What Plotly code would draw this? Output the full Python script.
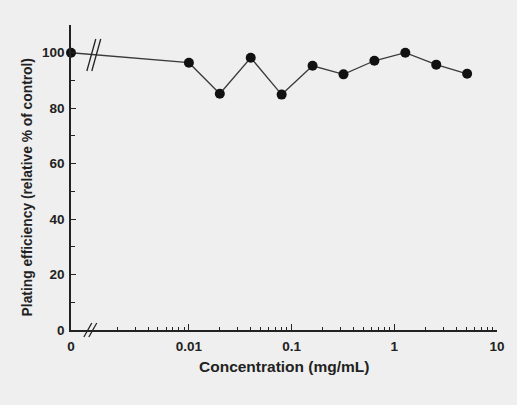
import plotly.graph_objects as go

# Data
concentration = [0, 0.01, 0.02, 0.04, 0.08, 0.16, 0.32, 0.64, 1.28, 2.56, 5.12]
plating_eff = [100, 96.4, 85.2, 98.2, 84.9, 95.3, 92.2, 97.1, 100, 95.7, 92.4]
x_tick_vals = [0.01, 0.1, 1, 10]
x_tick_text = ["0.01", "0.1", "1", "10"]
y_tick_vals = [0, 20, 40, 60, 80, 100]

# broken axis: the control (0) is drawn at a placeholder position on the log axis
ZERO_POS = 10 ** -3.148
x_plot = [ZERO_POS if c == 0 else c for c in concentration]

minor_x = [m * 10 ** e for e in (-3, -2, -1, 0) for m in range(2, 10)]
minor_x = [v for v in minor_x if v > 0.0015]

W, H = 517, 405
L, R, T, B = 71, 16, 25, 75
pw, ph = W - L - R, H - T - B

def px(x):
    return (x - L) / pw

def py(y):
    return (H - B - y) / ph

bg = "#efefef"
ink = "#222222"
font_fam = "Liberation Sans, Arial, sans-serif"

fig = go.Figure()
fig.add_trace(go.Scatter(
    x=x_plot, y=plating_eff, mode="lines+markers",
    line=dict(color="#3a3a3a", width=1.3),
    marker=dict(color="#111111", size=10),
    cliponaxis=False, showlegend=False, hoverinfo="skip",
))

fig.update_layout(
    width=W, height=H,
    margin=dict(l=L, r=R, t=T, b=B),
    paper_bgcolor=bg, plot_bgcolor=bg,
    font=dict(family=font_fam, color=ink),
    xaxis=dict(
        type="log", range=[-3.148, 1],
        tickmode="array",
        tickvals=[ZERO_POS] + x_tick_vals,
        ticktext=["<b>0</b>"] + ["<b>%s</b>" % t for t in x_tick_text],
        ticks="inside", ticklen=6, tickwidth=1.3, tickcolor=ink,
        minor=dict(tickmode="array", tickvals=minor_x, ticks="inside",
                   ticklen=3, tickwidth=1, tickcolor=ink),
        showline=True, linecolor=ink, linewidth=1.5,
        showgrid=False, zeroline=False,
        tickfont=dict(size=13.5, family=font_fam, color=ink),
        ticklabelstandoff=3,
    ),
    yaxis=dict(
        range=[0, 110],
        tickmode="array", tickvals=y_tick_vals,
        ticktext=["<b>%d</b>" % v for v in y_tick_vals],
        ticks="inside", ticklen=5, tickwidth=1.3, tickcolor=ink,
        minor=dict(tickmode="array", tickvals=[10, 30, 50, 70, 90, 110],
                   ticks="inside", ticklen=4, tickwidth=1, tickcolor=ink),
        showline=True, linecolor=ink, linewidth=1.5,
        showgrid=False, zeroline=False,
        tickfont=dict(size=13.5, family=font_fam, color=ink),
        ticklabelstandoff=2,
    ),
)

# axis titles
fig.add_annotation(text="<b>Concentration (mg/mL)</b>", xref="paper", yref="paper",
                   x=px(286), y=py(366), xanchor="center", yanchor="middle",
                   showarrow=False,
                   font=dict(size=15.5, family=font_fam, color=ink))
fig.add_annotation(text="<b>Plating efficiency (relative % of control)</b>",
                   xref="paper", yref="paper", x=px(27), y=py(187),
                   xanchor="center", yanchor="middle", textangle=-90,
                   showarrow=False, font=dict(size=13.8, family=font_fam, color=ink))

# break marks
def slash(x0, y0, x1, y1):
    fig.add_shape(type="line", xref="paper", yref="paper",
                  x0=px(x0), y0=py(y0), x1=px(x1), y1=py(y1),
                  line=dict(color=ink, width=1.3))

slash(84, 337, 92, 323)
slash(89, 337, 97, 323)
slash(87, 71, 96, 39)
slash(92, 71, 101, 39)

fig.write_html(
    "out.html",
    config={"displayModeBar": False},
    post_script="document.body.style.margin='0';document.body.style.background='%s';" % bg,
)
